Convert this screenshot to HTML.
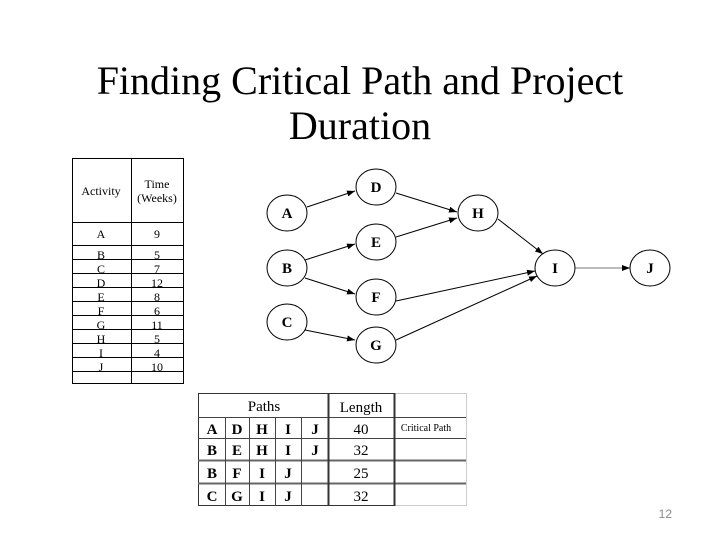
<!DOCTYPE html>
<html><head><style>
body{margin:0;width:720px;height:540px;background:#fff;position:relative;overflow:hidden;font-family:"Liberation Serif",serif}
.t{position:absolute;left:0;width:720px;text-align:center;font-size:40px;line-height:46px;color:#000}
.num{position:absolute;right:48px;top:507px;font:12px "Liberation Sans",sans-serif;color:#888}
</style></head><body>
<div class="t" style="top:58px">Finding Critical Path and Project</div>
<div class="t" style="top:103px">Duration</div>
<svg width="720" height="540" style="position:absolute;left:0;top:0" font-family="Liberation Serif, serif">
<defs><marker id="a" markerWidth="8" markerHeight="6" refX="8" refY="3" orient="auto"><path d="M0,0L8,3L0,6z" fill="#000"/></marker></defs>
<!-- activity table -->
<g stroke="#000" stroke-width="1" fill="none">
<rect x="72.5" y="158.5" width="111" height="225"/>
<line x1="131.5" y1="158" x2="131.5" y2="384"/>
<line x1="72" y1="222.5" x2="184" y2="222.5"/>
<line x1="72" y1="245.5" x2="184" y2="245.5"/>
</g>
<g font-size="12" text-anchor="middle" fill="#000">
<text x="101" y="195">Activity</text><text x="157" y="188">Time</text><text x="157" y="202">(Weeks)</text>
<text x="101" y="238">A</text><text x="157" y="238">9</text>
<text x="101" y="259">B</text><text x="157" y="259">5</text>
<text x="101" y="273">C</text><text x="157" y="273">7</text>
<text x="101" y="287">D</text><text x="157" y="287">12</text>
<text x="101" y="301">E</text><text x="157" y="301">8</text>
<text x="101" y="315">F</text><text x="157" y="315">6</text>
<text x="101" y="329">G</text><text x="157" y="329">11</text>
<text x="101" y="343">H</text><text x="157" y="343">5</text>
<text x="101" y="357">I</text><text x="157" y="357">4</text>
<text x="101" y="371">J</text><text x="157" y="371">10</text>
</g>
<g stroke="#000" stroke-width="1" fill="none" font-size="0">
<line x1="72" y1="259.5" x2="184" y2="259.5"/><line x1="72" y1="273.5" x2="184" y2="273.5"/>
<line x1="72" y1="287.5" x2="184" y2="287.5"/><line x1="72" y1="301.5" x2="184" y2="301.5"/>
<line x1="72" y1="315.5" x2="184" y2="315.5"/><line x1="72" y1="329.5" x2="184" y2="329.5"/>
<line x1="72" y1="343.5" x2="184" y2="343.5"/><line x1="72" y1="357.5" x2="184" y2="357.5"/>
<line x1="72" y1="371.5" x2="184" y2="371.5"/>
</g>
<!-- network -->
<g stroke="#000" stroke-width="1" marker-end="url(#a)">
<line x1="307" y1="207" x2="355" y2="191"/>
<line x1="396" y1="193" x2="457" y2="212"/>
<line x1="396" y1="237" x2="457" y2="218"/>
<line x1="305" y1="260" x2="355" y2="244"/>
<line x1="305" y1="278" x2="355" y2="294"/>
<line x1="498" y1="219" x2="543" y2="254"/>
<line x1="396" y1="301" x2="535" y2="271"/>
<line x1="396" y1="340" x2="537" y2="276"/>
<line x1="305" y1="330" x2="355" y2="340"/>
<line x1="575" y1="268" x2="630" y2="268" stroke="#777"/>
</g>
<g stroke="#000" stroke-width="1" fill="#fff">
<ellipse cx="287" cy="213" rx="20" ry="18"/><ellipse cx="376" cy="187" rx="20" ry="18"/>
<ellipse cx="478" cy="213" rx="20" ry="18"/><ellipse cx="376" cy="242" rx="20" ry="18"/>
<ellipse cx="287" cy="268" rx="20" ry="18"/><ellipse cx="376" cy="297" rx="20" ry="18"/>
<ellipse cx="287" cy="322" rx="20" ry="18"/><ellipse cx="376" cy="345" rx="20" ry="18"/>
<ellipse cx="555" cy="268" rx="20" ry="18"/><ellipse cx="650" cy="268" rx="20" ry="18"/>
</g>
<g font-size="15" font-weight="bold" text-anchor="middle" fill="#000">
<text x="287" y="218">A</text><text x="376" y="192">D</text><text x="478" y="218">H</text>
<text x="376" y="247">E</text><text x="287" y="273">B</text><text x="376" y="302">F</text>
<text x="287" y="327">C</text><text x="376" y="350">G</text><text x="555" y="273">I</text><text x="650" y="273">J</text>
</g>
<!-- paths table -->
<g fill="none">
<rect x="198.5" y="393.5" width="268" height="112" stroke="#ccc"/>
<rect x="198.5" y="393.5" width="196" height="112" stroke="#333"/>
<line x1="198" y1="417.5" x2="466" y2="417.5" stroke="#444"/>
<line x1="198" y1="438.5" x2="466" y2="438.5" stroke="#444"/>
<line x1="198" y1="460.5" x2="466" y2="460.5" stroke="#666" stroke-width="2"/>
<line x1="198" y1="483.5" x2="466" y2="483.5" stroke="#666" stroke-width="2"/>
<g stroke="#444"><line x1="225.5" y1="417" x2="225.5" y2="506"/><line x1="249.5" y1="417" x2="249.5" y2="506"/>
<line x1="275.5" y1="417" x2="275.5" y2="506"/><line x1="301.5" y1="417" x2="301.5" y2="506"/></g>
<line x1="328.5" y1="393" x2="328.5" y2="506" stroke="#333" stroke-width="2"/>
<line x1="394.5" y1="393" x2="394.5" y2="506" stroke="#333" stroke-width="2"/>
</g>
<g font-size="15" text-anchor="middle" fill="#000">
<text x="264" y="411">Paths</text><text x="361" y="412">Length</text>
<g font-weight="bold">
<text x="212" y="434">A</text><text x="237" y="434">D</text><text x="262" y="434">H</text><text x="288" y="434">I</text><text x="315" y="434">J</text>
<text x="212" y="455">B</text><text x="237" y="455">E</text><text x="262" y="455">H</text><text x="288" y="455">I</text><text x="315" y="455">J</text>
<text x="212" y="478">B</text><text x="237" y="478">F</text><text x="262" y="478">I</text><text x="288" y="478">J</text>
<text x="212" y="501">C</text><text x="237" y="501">G</text><text x="262" y="501">I</text><text x="288" y="501">J</text>
</g>
<text x="361" y="434">40</text><text x="361" y="455">32</text><text x="361" y="478">25</text><text x="361" y="501">32</text>
<text x="426" y="431" font-size="10">Critical Path</text>
</g>
</svg>
<div class="num">12</div>
</body></html>
